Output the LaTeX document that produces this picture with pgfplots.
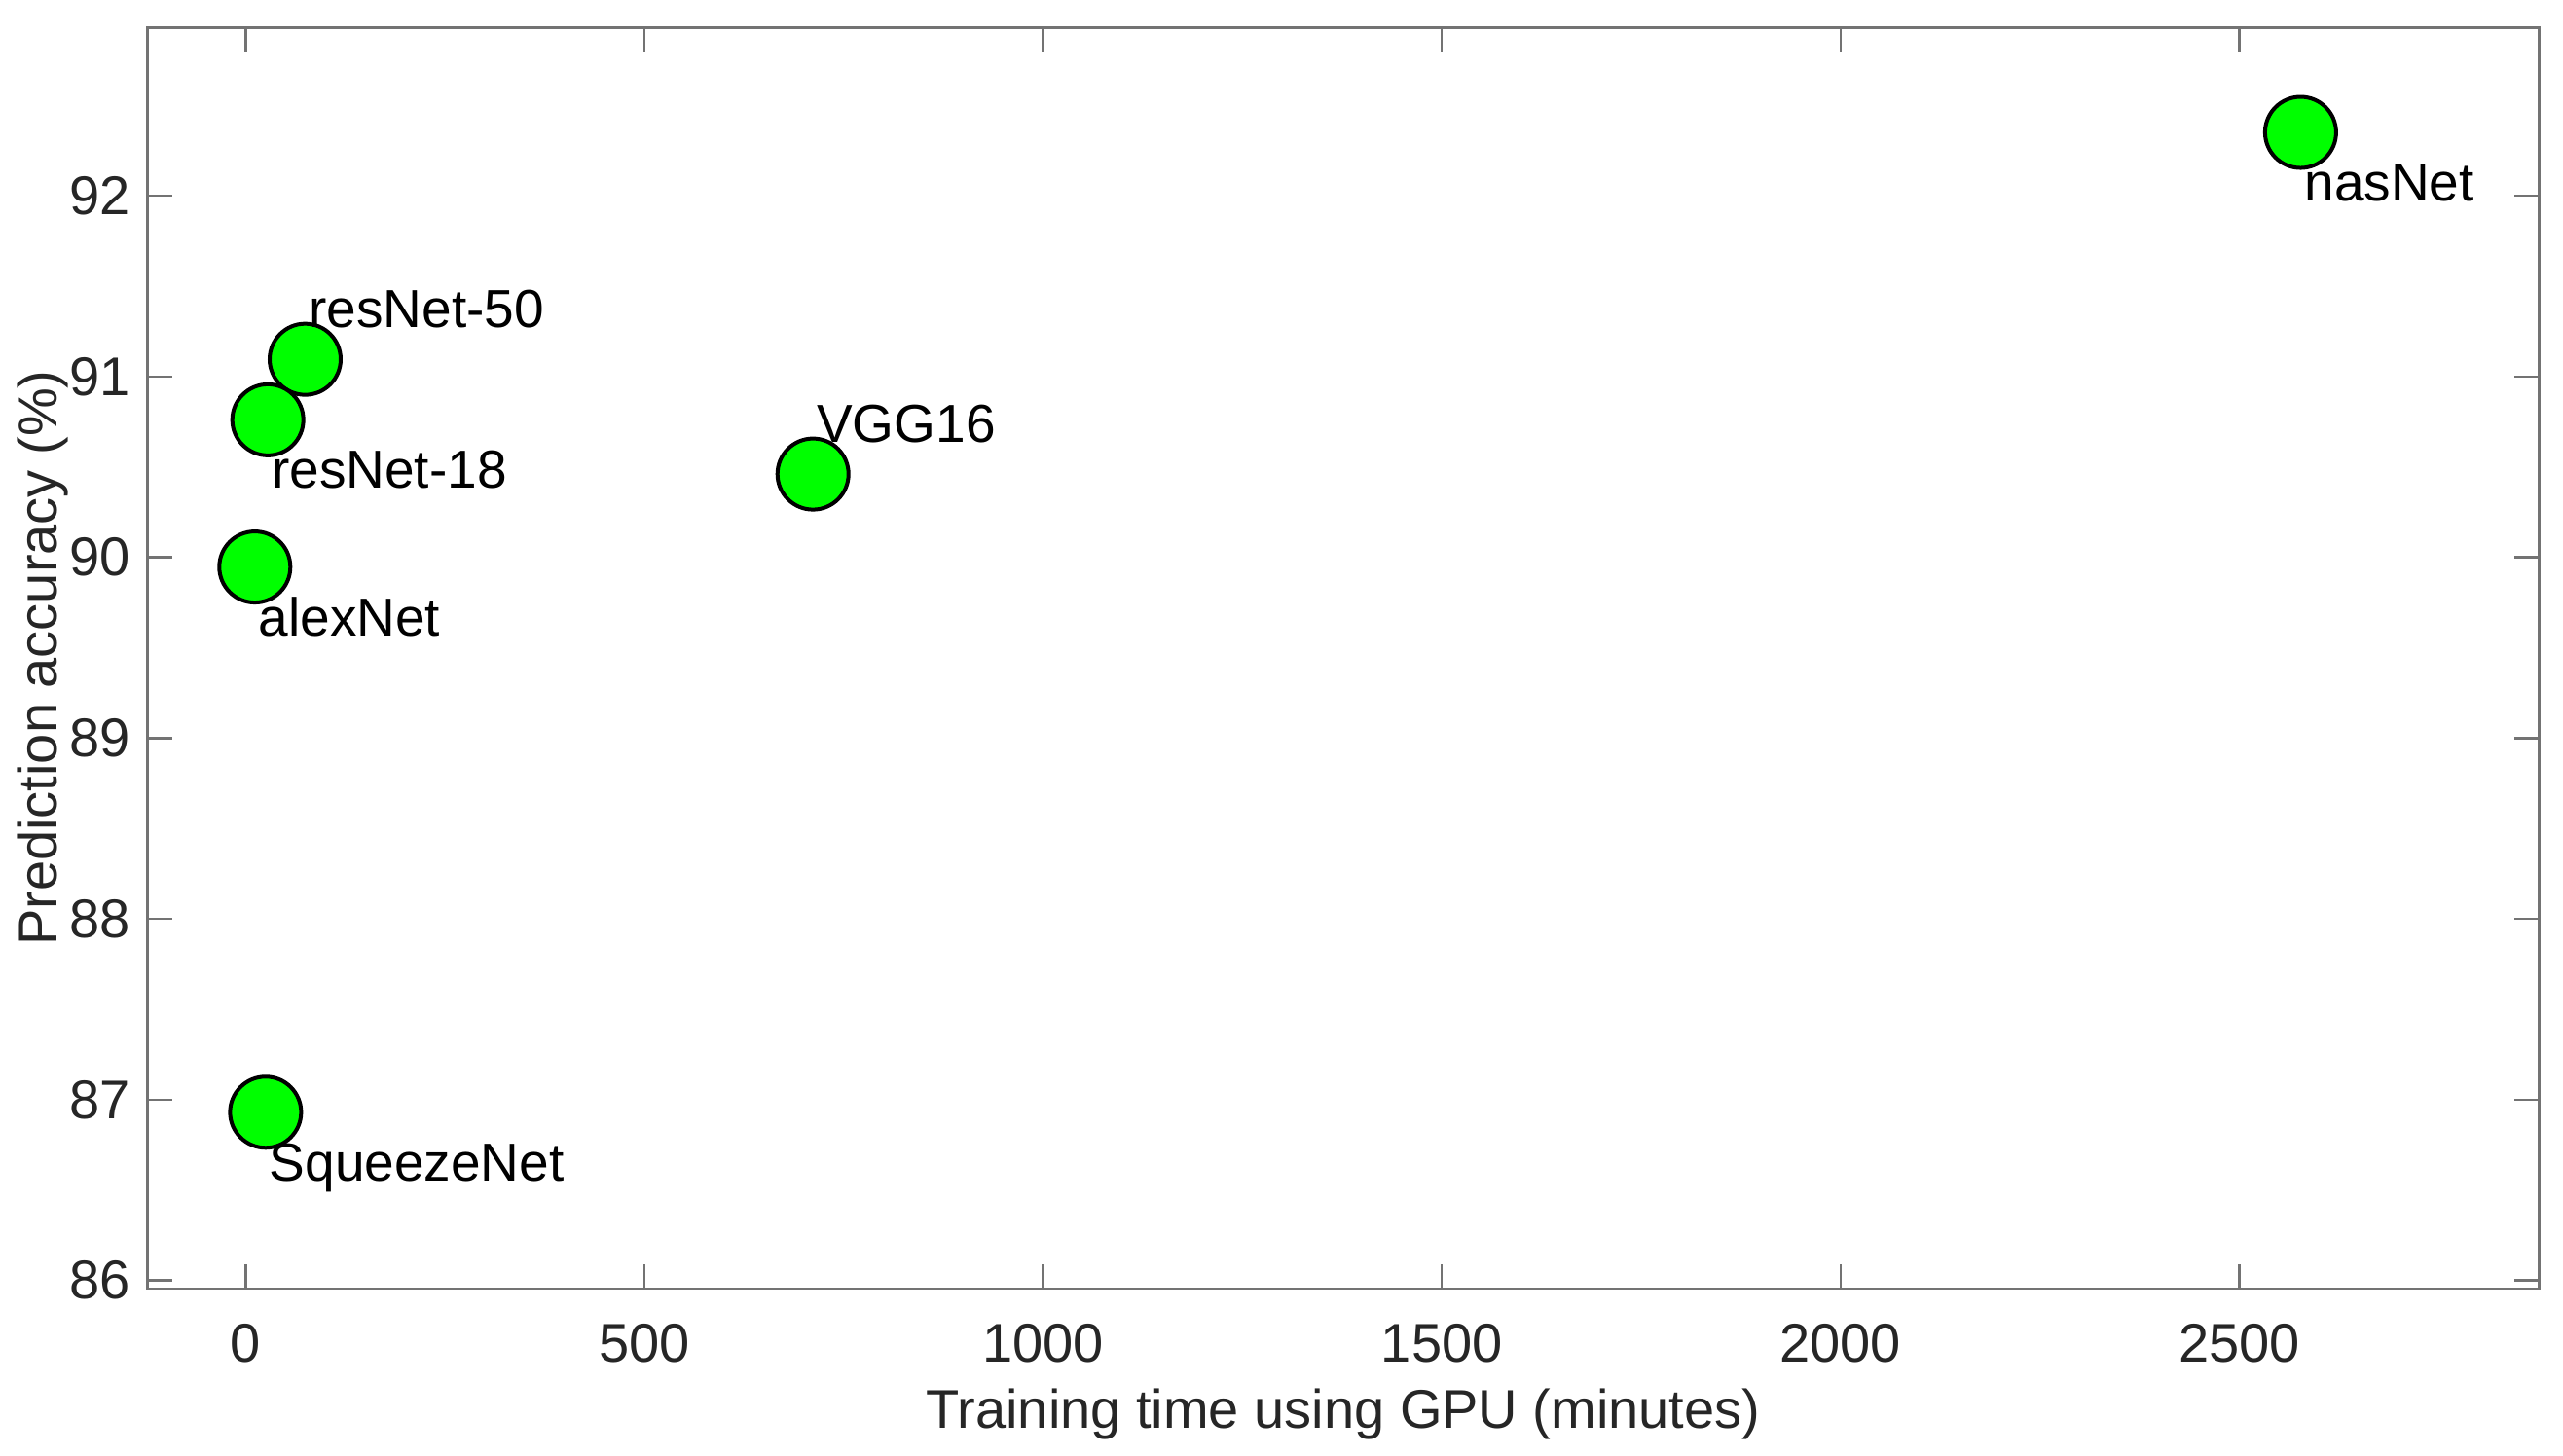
\documentclass[border=0pt]{standalone}
\usepackage{fontspec}
\setmainfont{Liberation Sans}
\usepackage{pgfplots}
\pgfplotsset{compat=1.18}
\usepackage{pgfplotstable}

\pgfplotstableread{
x y name
74.5 91.095 resNet-50
711.4 90.46 VGG16
}\abovetab
\pgfplotstableread{
x y name
11.4 89.946 alexNet
27.7 90.76 resNet-18
24.9 86.93 SqueezeNet
2577 92.35 nasNet
}\belowtab

\definecolor{mgreen}{rgb}{0,1,0}
\definecolor{axgray}{rgb}{0.45,0.45,0.45}
\definecolor{tickgray}{rgb}{0.15,0.15,0.15}

\begin{document}
\begin{tikzpicture}
\begin{axis}[
  scale only axis,
  width=491.3pt, height=259.1pt,
  xmin=-123, xmax=2876, ymin=85.955, ymax=92.93,
  xtick={0,500,1000,1500,2000,2500},
  ytick={86,87,88,89,90,91,92},
  tick align=inside,
  major tick length=5pt,
  axis line style={axgray, line width=0.5pt},
  tick style={axgray, line width=0.5pt},
  ticklabel style={font=\fontsize{11.2}{13}\selectfont, text=tickgray},
  xticklabel style={yshift=-3.8pt},
  /pgf/number format/assume math mode=true,
  /pgf/number format/set thousands separator={},
  xlabel={Training time using GPU (minutes)},
  ylabel={Prediction accuracy (\%)},
  label style={font=\fontsize{11.2}{13}\selectfont, text=tickgray},
  ylabel style={yshift=-6.5pt},
  xlabel style={inner sep=0pt, yshift=-1.8pt},
  clip=false,
]
\addplot[only marks, mark=*, mark size=7.3pt,
  mark options={fill=mgreen, draw=black, line width=0.8pt},
  nodes near coords, point meta=explicit symbolic,
  every node near coord/.append style={anchor=base west, inner sep=0pt,
     xshift=0.4pt, yshift=6.6pt, font=\fontsize{11}{13}\selectfont, text=black}]
  table[x=x, y=y, meta=name] {\abovetab};
\addplot[only marks, mark=*, mark size=7.3pt,
  mark options={fill=mgreen, draw=black, line width=0.8pt},
  nodes near coords, point meta=explicit symbolic,
  every node near coord/.append style={anchor=base west, inner sep=0pt,
     xshift=0.4pt, yshift=-14.1pt, font=\fontsize{11}{13}\selectfont, text=black}]
  table[x=x, y=y, meta=name] {\belowtab};
\end{axis}
\path (current axis.south west) ++(-30.34pt,-34.4pt) rectangle ([shift={(4.94pt,5.66pt)}]current axis.north east);
\end{tikzpicture}
\end{document}
